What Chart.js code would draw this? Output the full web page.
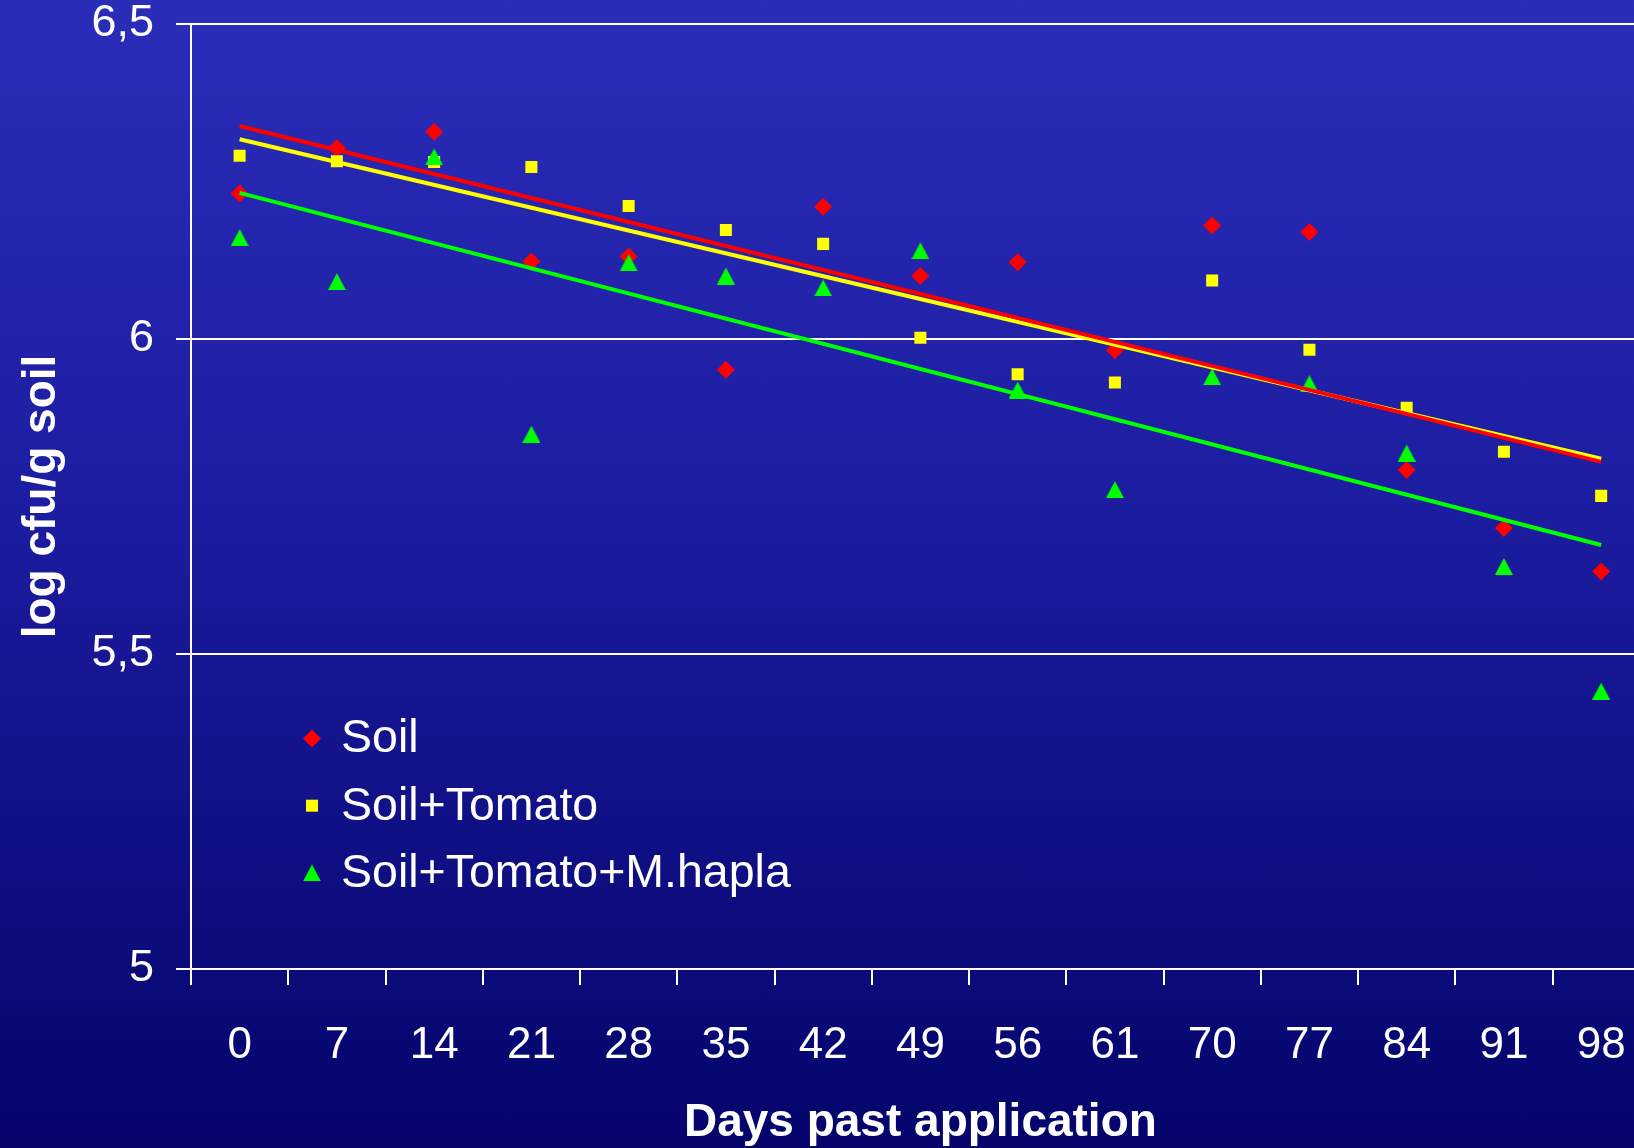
<!DOCTYPE html>
<html>
<head>
<meta charset="utf-8">
<title>log cfu/g soil</title>
<script src="https://cdn.jsdelivr.net/npm/chart.js@4/dist/chart.umd.min.js"></script>
<style>
  html, body {
    margin: 0; padding: 0; overflow: hidden;
    width: 1634px; height: 1148px;
    background: linear-gradient(to bottom, #2b2db9 0%, #1c1ca0 45%, #04046b 100%);
  }
  #wrap { position: absolute; left: 0; top: 0; width: 1665px; height: 1148px; }
</style>
</head>
<body>
<div id="wrap"><canvas id="chart"></canvas></div>
<script>
// Sampling days (category axis)
const days = ['0', '7', '14', '21', '28', '35', '42', '49', '56', '61', '70', '77', '84', '91', '98'];

// log cfu/g soil per treatment
const soil            = [6.231, 6.303, 6.329, 6.123, 6.131, 5.951, 6.210, 6.100, 6.122, 5.982, 6.180, 6.170, 5.792, 5.700, 5.631];
const soilTomato      = [6.291, 6.282, 6.281, 6.273, 6.211, 6.173, 6.151, 6.002, 5.944, 5.931, 6.093, 5.983, 5.891, 5.821, 5.751];
const soilTomatoHapla = [6.161, 6.091, 6.289, 5.849, 6.121, 6.100, 6.081, 6.140, 5.919, 5.761, 5.940, 5.929, 5.819, 5.639, 5.441];

// Linear trend lines: value at day 0 and at day 98
const soilTrend            = [6.338, 5.805];
const soilTomatoTrend      = [6.317, 5.810];
const soilTomatoHaplaTrend = [6.232, 5.673];

// Y axis labels (decimal comma)
const yTickLabels = ['5', '5,5', '6', '6,5'];

const seriesNames = ['Soil', 'Soil+Tomato', 'Soil+Tomato+M.hapla'];
const RED = '#ff0000', YELLOW = '#ffff00', GREEN = '#00ff00';
const FONT = '"Liberation Sans", Arial, Helvetica, sans-serif';

// Upward triangle marker whose box is centred on the point
function triangleMarker(color) {
  const w = 18, h = 17;
  const c = document.createElement('canvas');
  c.width = w; c.height = h;
  const g = c.getContext('2d');
  g.fillStyle = color;
  g.beginPath();
  g.moveTo(w / 2, 0);
  g.lineTo(w, h);
  g.lineTo(0, h);
  g.closePath();
  g.fill();
  return c;
}
const triangle = triangleMarker(GREEN);

// Only the two ends of a trend line carry a value; the line spans the gap
function trendData(ends) {
  return days.map((_, i) => i === 0 ? ends[0] : (i === days.length - 1 ? ends[1] : null));
}

function trendSet(ends, color, order) {
  return {
    type: 'line', data: trendData(ends), borderColor: color, borderWidth: 4,
    pointRadius: 0, spanGaps: true, fill: false, order: order, inLegend: false
  };
}

function pointSet(label, values, color, style, radius, order) {
  return {
    type: 'line', label: label, data: values, showLine: false,
    backgroundColor: color, borderColor: color, borderWidth: 0,
    pointStyle: style, pointRadius: radius, pointBorderWidth: 0,
    order: order, inLegend: true
  };
}

// Legend drawn inside the plot area, lower left
const insideLegend = {
  id: 'insideLegend',
  afterDraw(chart) {
    const { ctx, chartArea } = chart;
    const rows = chart.data.datasets.filter(d => d.inLegend);
    ctx.save();
    ctx.font = '46.5px ' + FONT;
    ctx.textBaseline = 'middle';
    ctx.textAlign = 'left';
    rows.forEach((d, i) => {
      const y = chartArea.top + 714.5 + i * 67.2;
      const x = chartArea.left + 121;
      ctx.fillStyle = d.backgroundColor;
      if (d.pointStyle === 'rectRot') {
        const r = d.pointRadius;
        ctx.beginPath();
        ctx.moveTo(x - r, y); ctx.lineTo(x, y - r); ctx.lineTo(x + r, y); ctx.lineTo(x, y + r);
        ctx.closePath(); ctx.fill();
      } else if (d.pointStyle === 'rect') {
        const s = Math.SQRT1_2 * d.pointRadius;
        ctx.fillRect(x - s, y - s, 2 * s, 2 * s);
      } else {
        const img = d.pointStyle;
        ctx.drawImage(img, x - img.width / 2, y - img.height / 2);
      }
      ctx.fillStyle = '#ffffff';
      ctx.fillText(d.label, chartArea.left + 150, y + 1);
    });
    ctx.restore();
  }
};

new Chart(document.getElementById('chart'), {
  type: 'line',
  data: {
    labels: days,
    datasets: [
      trendSet(soilTrend, RED, 0),
      trendSet(soilTomatoTrend, YELLOW, 1),
      trendSet(soilTomatoHaplaTrend, GREEN, 2),
      pointSet(seriesNames[0], soil, RED, 'rectRot', 9, 5),
      pointSet(seriesNames[1], soilTomato, YELLOW, 'rect', 8.5, 4),
      pointSet(seriesNames[2], soilTomatoHapla, GREEN, triangle, 9, 3)
    ]
  },
  options: {
    responsive: true,
    maintainAspectRatio: false,
    animation: false,
    layout: { padding: { top: 24, right: 11, bottom: 0, left: 0 } },
    plugins: { legend: { display: false }, tooltip: { enabled: false } },
    scales: {
      x: {
        type: 'category',
        offset: true,
        grid: { offset: true, drawOnChartArea: false, drawTicks: true, tickLength: 16, color: '#ffffff', lineWidth: 2 },
        border: { display: true, color: '#ffffff', width: 2 },
        ticks: {
          color: '#ffffff', padding: 39, maxRotation: 0, autoSkip: false,
          font: { family: FONT, size: 44, lineHeight: 1 }
        },
        title: {
          display: true, text: 'Days past application', color: '#ffffff',
          font: { family: FONT, size: 46, weight: 'bold', lineHeight: 1.07 },
          padding: { top: 0, bottom: 0 }
        },
        afterFit(scale) { scale.height = 179; }
      },
      y: {
        min: 5, max: 6.5,
        grid: { color: '#ffffff', lineWidth: 2, drawTicks: true, tickLength: 15 },
        border: { display: true, color: '#ffffff', width: 2 },
        ticks: {
          stepSize: 0.5, color: '#ffffff', padding: 22,
          font: { family: FONT, size: 45, lineHeight: 1 },
          callback: (value, index) => yTickLabels[index]
        },
        title: {
          display: true, text: 'log cfu/g soil', color: '#ffffff',
          font: { family: FONT, size: 46, weight: 'bold', lineHeight: 1.2 },
          padding: { top: 15, bottom: 0 }
        },
        afterFit(scale) {
          scale.width = 191;
          scale.paddingTop = 0;
          scale.paddingBottom = 0;
        }
      }
    }
  },
  plugins: [insideLegend]
});
</script>
</body>
</html>
